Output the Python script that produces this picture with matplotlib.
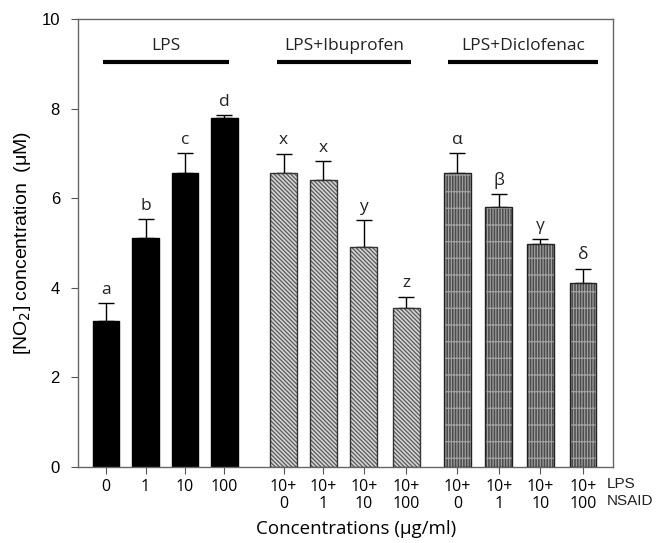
import matplotlib.pyplot as plt
import numpy as np

# data
lps_vals = [3.26, 5.12, 6.57, 7.78]
lps_err = [0.40, 0.41, 0.43, 0.07]
ibu_vals = [6.56, 6.40, 4.92, 3.56]
ibu_err = [0.43, 0.42, 0.59, 0.24]
dic_vals = [6.57, 5.80, 4.97, 4.11]
dic_err = [0.44, 0.29, 0.12, 0.32]

lps_letters = ['a', 'b', 'c', 'd']
ibu_letters = ['x', 'x', 'y', 'z']
dic_letters = ['α', 'β', 'γ', 'δ']

lps_ticks = ['0', '1', '10', '100']
nsaid_ticks = ['10+\n0', '10+\n1', '10+\n10', '10+\n100']
group_names = ['LPS', 'LPS+Ibuprofen', 'LPS+Diclofenac']

lps_x = np.array([0, 1, 2, 3])
ibu_x = np.array([4.5, 5.5, 6.53, 7.6])
dic_x = np.array([8.9, 9.95, 11.0, 12.08])
w = 0.68
line_spans = [(-0.08, 3.12), (4.33, 7.72), (8.66, 12.46)]

fig = plt.figure(figsize=(6.57, 5.43), dpi=100)
ax = fig.add_axes([0.1187, 0.140, 0.8143, 0.825])

err_kw = dict(ecolor='black', elinewidth=1, capsize=6, capthick=1)

# LPS bars
ax.bar(lps_x, lps_vals, w, color='black', edgecolor='black', zorder=2)
ax.errorbar(lps_x, lps_vals, yerr=[np.zeros(4), lps_err], fmt='none', zorder=1, **err_kw)

# Ibuprofen bars (light gray, diagonal hatch)
plt.rcParams['hatch.linewidth'] = 0.9
ax.bar(ibu_x, ibu_vals, w, color='#d4d4d4', edgecolor='#5a5a5a', hatch='\\\\\\\\\\\\\\\\', lw=0, zorder=2)
ax.bar(ibu_x, ibu_vals, w, fill=False, edgecolor='#333333', lw=1, zorder=3)
ax.errorbar(ibu_x, ibu_vals, yerr=[np.zeros(4), ibu_err], fmt='none', zorder=1, **err_kw)

# Diclofenac bars (dark gray, grid hatch)
ax.bar(dic_x, dic_vals, w, color='#4a4a4a', edgecolor='#a0a0a0', hatch='|||||+', lw=0, zorder=2)
ax.bar(dic_x, dic_vals, w, fill=False, edgecolor='#222222', lw=1, zorder=3)
ax.errorbar(dic_x, dic_vals, yerr=[np.zeros(4), dic_err], fmt='none', zorder=1, **err_kw)

# significance letters
for xs, vals, errs, letters in [(lps_x, lps_vals, lps_err, lps_letters),
                                (ibu_x, ibu_vals, ibu_err, ibu_letters),
                                (dic_x, dic_vals, dic_err, dic_letters)]:
    for x, v, e, t in zip(xs, vals, errs, letters):
        ax.text(x, v + e + 0.12, t, ha='center', va='bottom', fontsize=12.5,
                family=['Open Sans', 'DejaVu Sans'], color='#222222')

# group lines and names
for (x0, x1), name in zip(line_spans, group_names):
    ax.plot([x0, x1], [9.05, 9.05], color='black', lw=3, solid_capstyle='butt')
    ax.text((x0 + x1) / 2, 9.22, name, ha='center', va='bottom', fontsize=12.5,
            family='Open Sans', color='#222222')

ax.set_xlim(-0.71, 12.84)
ax.set_ylim(0, 10)
ax.set_yticks([0, 2, 4, 6, 8, 10])
ax.set_yticklabels(['0', '2', '4', '6', '8', '10'], family='Liberation Sans', fontsize=12)
all_x = np.concatenate([lps_x, ibu_x, dic_x])
ax.set_xticks(all_x)
ax.set_xticklabels(lps_ticks + nsaid_ticks * 2, family='Open Sans', fontsize=11.5,
                   linespacing=1.05)
ax.tick_params(axis='both', direction='out', length=5, color='#555555')
ax.tick_params(axis='y', pad=8)
ax.tick_params(axis='x', pad=4)
for s in ax.spines.values():
    s.set_color('#666666')
    s.set_linewidth(1)

ax.text(12.68, -0.22, 'LPS\nNSAID', ha='left', va='top', fontsize=11,
        family='Liberation Sans', linespacing=1.3, color='#222222')

ax.set_ylabel('[NO$_2$] concentration  (μM)', family='Liberation Sans', fontsize=14)
ax.yaxis.set_label_coords(-0.084, 0.5)
ax.set_xlabel('Concentrations (μg/ml)', family='Open Sans', fontsize=13.5)
ax.xaxis.set_label_coords(0.52, -0.118)

plt.savefig('out.png', dpi=100)
